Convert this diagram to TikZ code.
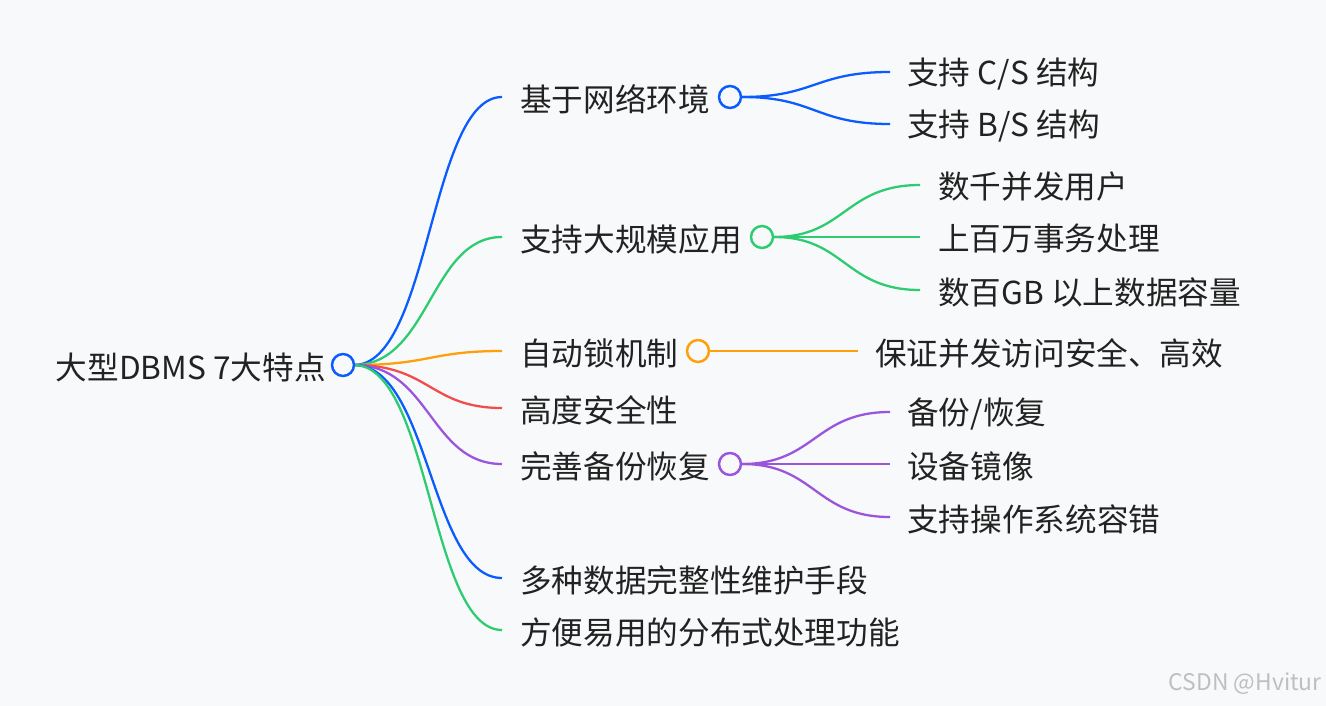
\documentclass[tikz,border=0pt]{standalone}
\usepackage{fontspec}
\setmainfont{Noto Sans CJK SC}
\definecolor{bgc}{HTML}{F8F9FA}
\definecolor{txt}{HTML}{222222}
\definecolor{cblue}{HTML}{0A5CFF}
\definecolor{cgreen}{HTML}{2ECC71}
\definecolor{corange}{HTML}{FF9F0A}
\definecolor{cred}{HTML}{F04E4E}
\definecolor{cpurple}{HTML}{9B55DD}
\tikzset{
  lbl/.style={text=txt, inner sep=0pt, font=\fontsize{18}{20}\selectfont},
  bubble/.style={circle, line width=1.4pt, fill=bgc, minimum size=12.5pt, inner sep=0pt},
  edge/.style={line width=1.3pt},
}
\begin{document}
\begin{tikzpicture}[x=0.02cm,y=-0.02cm]
  \fill[bgc] (0,0) rectangle (1326,706);

  % root
  \node[lbl, anchor=east] (root) at (326,367) {大型DBMS 7大特点};

  % first level
  \coordinate (b1) at (502,97);  \node[lbl, anchor=west] (t1) at (520,99)  {基于网络环境};
  \coordinate (b2) at (502,237); \node[lbl, anchor=west] (t2) at (520,239) {支持大规模应用};
  \coordinate (b3) at (502,351); \node[lbl, anchor=west] (t3) at (520,353) {自动锁机制};
  \coordinate (b4) at (502,408); \node[lbl, anchor=west] (t4) at (520,410) {高度安全性};
  \coordinate (b5) at (502,464); \node[lbl, anchor=west] (t5) at (520,466) {完善备份恢复};
  \coordinate (b6) at (502,578); \node[lbl, anchor=west] (t6) at (520,580) {多种数据完整性维护手段};
  \coordinate (b7) at (502,630); \node[lbl, anchor=west] (t7) at (520,632) {方便易用的分布式处理功能};

  \draw[edge, cblue]    (354,365) .. controls (430,365) and (430,97)  .. (b1);
  \draw[edge, cgreen]   (354,365) .. controls (430,365) and (430,237) .. (b2);
  \draw[edge, corange]  (354,365) .. controls (430,365) and (430,351) .. (b3);
  \draw[edge, cred]     (354,365) .. controls (430,365) and (430,408) .. (b4);
  \draw[edge, cpurple]  (354,365) .. controls (430,365) and (430,464) .. (b5);
  \draw[edge, cblue]    (354,365) .. controls (430,365) and (430,578) .. (b6);
  \draw[edge, cgreen]   (354,365) .. controls (430,365) and (430,630) .. (b7);
  \node[bubble, draw=cblue] (rc) at (343,365) {};

  % second level
  \node[bubble, draw=cblue]    (c1) at (730,97)  {};
  \node[bubble, draw=cgreen]   (c2) at (762,237) {};
  \node[bubble, draw=corange]  (c3) at (698,351) {};
  \node[bubble, draw=cpurple]  (c5) at (730,464) {};

  \foreach \y/\t [count=\i] in {72/{支持 C/S 结构}, 124/{支持 B/S 结构}} {
    \coordinate (l1\i) at (890,\y);
    \node[lbl, anchor=west] (u1\i) at (907,\y+2) {\t};
    \draw[edge, cblue] (c1.east) .. controls (815,97) and (815,\y) .. (l1\i);
  }
  \foreach \y/\t [count=\i] in {185/数千并发用户, 237/上百万事务处理, 290/数百GB 以上数据容量} {
    \coordinate (l2\i) at (920,\y);
    \node[lbl, anchor=west] (u2\i) at (938,\y+2) {\t};
    \draw[edge, cgreen] (c2.east) .. controls (845,237) and (845,\y) .. (l2\i);
  }
  \coordinate (l31) at (858,351);
  \node[lbl, anchor=west] (u31) at (875,353) {保证并发访问安全、高效};
  \draw[edge, corange] (c3.east) -- (l31);
  \foreach \y/\t [count=\i] in {412/{备份/恢复}, 464/设备镜像, 517/支持操作系统容错} {
    \coordinate (l5\i) at (890,\y);
    \node[lbl, anchor=west] (u5\i) at (907,\y+2) {\t};
    \draw[edge, cpurple] (c5.east) .. controls (815,464) and (815,\y) .. (l5\i);
  }

  % watermark
  \node[anchor=east, text=gray!50, inner sep=0pt, font=\fontsize{13}{15}\selectfont] (wm) at (1322,684) {CSDN @Hvitur};
\end{tikzpicture}
\end{document}
